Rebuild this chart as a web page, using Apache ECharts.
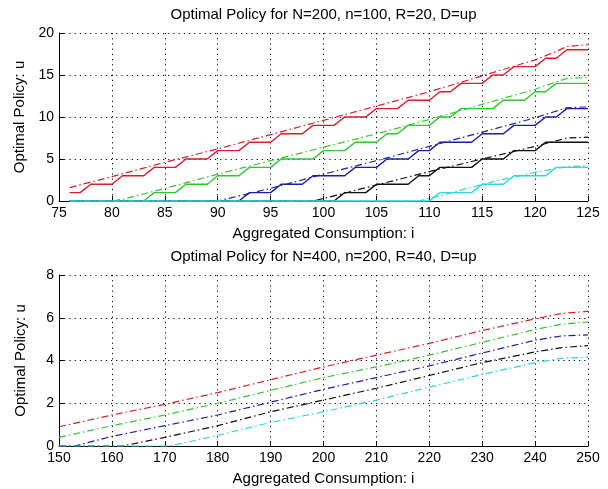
<!DOCTYPE html>
<html><head><meta charset="utf-8">
<script src="https://cdn.jsdelivr.net/npm/echarts@6/dist/echarts.min.js"></script>
<style>html,body{margin:0;padding:0;background:#fff}#c{width:608px;height:489px}</style>
</head><body><div id="c"></div>
<script>
// ---- Top panel data (N=200) ----
const xTop = [76,77,78,79,80,81,82,83,84,85,86,87,88,89,90,91,92,93,94,95,96,97,98,99,100,101,102,103,104,105,106,107,108,109,110,111,112,113,114,115,116,117,118,119,120,121,122,123,124,125];
const redSolid   = [1,1,2,2,2,3,3,3,4,4,4,5,5,5,6,6,6,7,7,7,8,8,8,9,9,9,10,10,10,11,11,11,12,12,12,13,13,14,14,14,15,15,16,16,16,17,17,18,18,18];
const greenSolid = [0,0,0,0,0,0,0,0,1,1,1,2,2,2,3,3,3,4,4,4,5,5,5,5,6,6,6,7,7,7,8,8,9,9,9,10,10,11,11,11,11,12,12,12,13,13,14,14,14,14];
const blueSolid  = [0,0,0,0,0,0,0,0,0,0,0,0,0,0,0,0,0,1,1,1,2,2,2,3,3,3,3,4,4,4,5,5,5,6,6,7,7,7,7,8,8,8,9,9,9,10,10,11,11,11];
const blackSolid = [0,0,0,0,0,0,0,0,0,0,0,0,0,0,0,0,0,0,0,0,0,0,0,0,0,0,1,1,1,2,2,2,2,3,3,4,4,4,4,5,5,5,6,6,6,7,7,7,7,7];
const cyanSolid  = [0,0,0,0,0,0,0,0,0,0,0,0,0,0,0,0,0,0,0,0,0,0,0,0,0,0,0,0,0,0,0,0,0,0,0,1,1,1,1,2,2,2,3,3,3,3,4,4,4,4];

const redDash   = [[76,1.6],[80,2.9],[85,4.6],[90,6.2],[95,7.9],[100,9.6],[105,11.3],[110,13.0],[115,14.9],[120,16.8],[122,17.8],[123,18.4],[125,18.6]];
const greenDash = [[76,0],[80,0],[81,0.2],[85,1.5],[90,3.2],[95,4.8],[100,6.4],[105,8.0],[110,9.7],[115,11.5],[120,13.3],[123,14.6],[125,14.7]];
const blueDash  = [[76,0],[90,0],[95,1.5],[100,3.2],[105,4.8],[110,6.5],[115,8.2],[120,9.9],[123,11.1],[125,11.2]];
const blackDash = [[76,0],[99,0],[100,0.3],[105,1.9],[110,3.5],[115,5.0],[120,6.5],[123,7.5],[125,7.6]];
const cyanDash  = [[76,0],[109,0],[110,0.3],[113,1.3],[116,2.3],[120,3.4],[123,4.1],[125,4.2]];

// ---- Bottom panel data (N=400) ----
const redLow   = [[150,0.9],[160,1.45],[170,1.95],[180,2.5],[190,3.1],[200,3.7],[210,4.25],[220,4.8],[230,5.4],[240,5.95],[245,6.2],[250,6.3]];
const greenLow = [[150,0.4],[160,0.95],[170,1.45],[180,2.0],[190,2.6],[200,3.2],[210,3.7],[220,4.25],[230,4.85],[240,5.45],[245,5.7],[250,5.8]];
const blueLow  = [[150,0],[153,0],[160,0.45],[170,0.95],[180,1.45],[190,2.05],[200,2.65],[210,3.2],[220,3.75],[230,4.35],[240,4.95],[245,5.15],[250,5.2]];
const blackLow = [[150,0],[162,0],[170,0.4],[180,0.95],[190,1.6],[200,2.15],[210,2.7],[220,3.3],[230,3.9],[240,4.4],[245,4.6],[250,4.7]];
const cyanLow  = [[150,0],[171,0],[180,0.5],[190,1.1],[200,1.6],[210,2.15],[220,2.75],[230,3.35],[240,3.9],[245,4.1],[250,4.15]];

const titles = ['Optimal Policy for N=200, n=100, R=20, D=up', 'Optimal Policy for N=400, n=200, R=40, D=up'];
const xName = 'Aggregated Consumption: i';
const yName = 'Optimal Policy: u';

const C = {red:'#d61f2b', green:'#2fc62f', blue:'#1c1cb0', black:'#111111', cyan:'#2ed8d8'};
const FONT = "'Liberation Sans', Arial, sans-serif";
const DASHDOT = [7,3,1.5,3];

function solid(xs, ys, color){
  return {type:'line', xAxisIndex:0, yAxisIndex:0, data: xs.map((x,i)=>[x, ys[i]]),
    symbol:'none', silent:true, clip:false, lineStyle:{color:color, width:1.4, type:'solid'}};
}
function dashed(pts, color, idx){
  return {type:'line', xAxisIndex:idx, yAxisIndex:idx, data: pts,
    symbol:'none', silent:true, clip:false, lineStyle:{color:color, width:1.2, type:DASHDOT}};
}
function xAx(idx, min, max, interval){
  return {type:'value', gridIndex:idx, min:min, max:max, interval:interval,
    name:xName, nameLocation:'middle', nameGap:25,
    nameTextStyle:{color:'#000', fontFamily:FONT, fontSize:15},
    axisLine:{show:true, onZero:false, lineStyle:{color:'#000', width:1}},
    axisTick:{show:true, inside:true, length:5, lineStyle:{color:'#000'}},
    axisLabel:{color:'#000', fontFamily:FONT, fontSize:14, margin:5},
    splitLine:{show:true, lineStyle:{color:'#000', width:1, type:[1.2,4]}}};
}
function yAx(idx, min, max, interval){
  return {type:'value', gridIndex:idx, min:min, max:max, interval:interval,
    name:yName, nameLocation:'middle', nameGap:31, nameRotate:90,
    nameTextStyle:{color:'#000', fontFamily:FONT, fontSize:15},
    axisLine:{show:true, onZero:false, lineStyle:{color:'#000', width:1}},
    axisTick:{show:true, inside:true, length:5, lineStyle:{color:'#000'}},
    axisLabel:{color:'#000', fontFamily:FONT, fontSize:14, margin:5},
    splitLine:{show:true, lineStyle:{color:'#000', width:1, type:[1.2,4]}}};
}

const chart = echarts.init(document.getElementById('c'), null, {renderer:'canvas'});
chart.setOption({
  animation:false,
  backgroundColor:'#fff',
  grid:[
    {left:59, right:20, top:33, height:168, outerBoundsMode:'none', containLabel:false},
    {left:59, right:20, top:275, height:171, outerBoundsMode:'none', containLabel:false}
  ],
  graphic:[
    {type:'text', x:323.5, y:15, silent:true, style:{text:titles[0], fill:'#000', font:"15px "+FONT, textAlign:'center', textVerticalAlign:'middle'}},
    {type:'text', x:323.5, y:257, silent:true, style:{text:titles[1], fill:'#000', font:"15px "+FONT, textAlign:'center', textVerticalAlign:'middle'}}
  ],
  xAxis:[xAx(0,75,125,5), xAx(1,150,250,10)],
  yAxis:[yAx(0,0,20,5), yAx(1,0,8,2)],
  series:[
    solid(xTop, redSolid, C.red), dashed(redDash, C.red, 0),
    solid(xTop, greenSolid, C.green), dashed(greenDash, C.green, 0),
    solid(xTop, blueSolid, C.blue), dashed(blueDash, C.blue, 0),
    solid(xTop, blackSolid, C.black), dashed(blackDash, C.black, 0),
    solid(xTop, cyanSolid, C.cyan), dashed(cyanDash, C.cyan, 0),
    dashed(redLow, C.red, 1), dashed(greenLow, C.green, 1), dashed(blueLow, C.blue, 1),
    dashed(blackLow, C.black, 1), dashed(cyanLow, C.cyan, 1)
  ]
});
</script></body></html>
